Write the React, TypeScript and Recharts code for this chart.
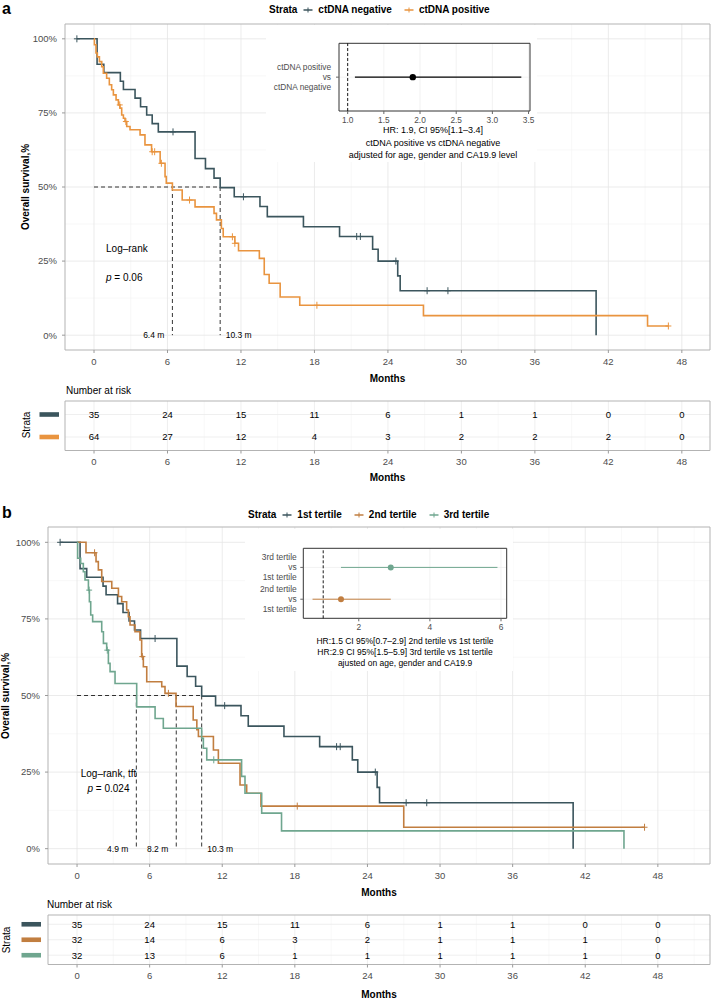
import React from 'react';
import {
  ComposedChart, Line, Scatter, XAxis, YAxis, CartesianGrid, ReferenceLine, ReferenceArea,
} from 'recharts';

// axis ticks
const MONTHS = [0, 6, 12, 18, 24, 30, 36, 42, 48];
const MONTHS_MINOR = [3, 9, 15, 21, 27, 33, 39, 45, 51];
const SURV_TICKS = [0, 25, 50, 75, 100];
const SURV_MINOR = [12.5, 37.5, 62.5, 87.5];

// ctDNA negative (= 1st tertile, same 35 patients)
const NEG_T = [-1.4, 0.25, 0.8, 2.15, 2.4, 3.35, 3.8, 4.3, 4.75, 5.25, 8.25, 9.1, 9.8, 10.3, 11.45, 13.55, 14.15, 17.1, 20.05, 22.75, 23.2, 24.8, 25.0, 41.0];
const NEG_S = [100, 91.4, 88.6, 85.7, 82.9, 80.0, 77.1, 74.3, 71.4, 68.6, 59.6, 56.2, 53.0, 49.8, 46.7, 43.4, 40.0, 36.6, 33.3, 29.0, 25.0, 20.0, 15.0, 0];
const NEG_CENSOR = [-1.4, 6.45, 12.2, 21.45, 21.75, 24.65, 27.2, 28.9];

// ctDNA positive
const POS_T = [0, 0.03, 0.16, 0.27, 0.44, 0.63, 0.76, 1.03, 1.25, 1.44, 1.58, 1.8, 1.99, 2.12, 2.26, 2.4, 2.53, 2.67, 2.94, 3.76, 4.16, 4.7, 5.4, 5.8, 5.9, 6.4, 7.2, 8.25, 9.8, 10.0, 10.4, 10.55, 11.5, 11.8, 13.5, 13.9, 14.3, 15.2, 16.8, 26.9, 45.2, 46.9];
const POS_S = [100, 98.0, 95.2, 93.9, 92.3, 90.6, 88.4, 86.7, 84.5, 82.8, 81.1, 79.4, 77.7, 76.6, 74.3, 73.2, 72.1, 70.4, 69.3, 67.6, 64.2, 61.9, 58.0, 53.5, 51.3, 49.0, 45.6, 43.3, 41.1, 38.9, 36.0, 33.2, 31.0, 28.5, 25.9, 20.5, 17.5, 12.9, 10.1, 6.6, 3.1, 3.1];
const POS_CENSOR = [2.1, 2.6, 4.75, 4.95, 5.5, 7.8, 11.3, 11.5, 18.2, 46.9];

// 2nd tertile
const T2_T = [0, 0.74, 1.57, 1.76, 2.04, 2.87, 3.42, 3.69, 4.1, 4.24, 4.38, 4.79, 5.2, 5.34, 5.48, 5.76, 7.0, 7.27, 8.18, 9.6, 9.9, 10.03, 11.27, 11.68, 13.47, 14.02, 15.2, 27.0, 46.9];
const T2_S = [100, 96.6, 93.7, 91.0, 87.2, 85.0, 82.3, 80.6, 77.9, 75.7, 73.0, 70.8, 68.1, 62.7, 59.4, 54.5, 52.9, 50.7, 46.4, 42.0, 38.8, 36.6, 32.2, 27.9, 20.8, 18.1, 13.9, 7.0, 7.0];
const T2_CENSOR = [1.45, 5.4, 7.55, 18.2, 46.9];

// 3rd tertile
const T3_T = [0, 0.05, 0.3, 0.52, 0.66, 0.94, 1.02, 1.13, 1.29, 2.04, 2.18, 2.45, 2.59, 2.73, 3.14, 4.93, 6.45, 7.13, 10.3, 10.44, 10.72, 13.6, 13.88, 15.26, 16.9, 45.2];
const T3_S = [100, 94.8, 93.1, 90.4, 87.7, 84.4, 80.6, 76.3, 74.1, 70.8, 67.0, 64.8, 60.5, 57.8, 53.9, 46.3, 42.5, 39.3, 36.0, 32.8, 29.0, 23.6, 18.1, 11.6, 5.8, 0];
const T3_CENSOR = [1.0, 2.5, 11.3];

// medians (months)
const MEDIANS_A = [6.4, 10.3];
const MEDIANS_B = [4.9, 8.2, 10.3];

// numbers at risk at MONTHS
const RISK_NEG = [35, 24, 15, 11, 6, 1, 1, 0, 0];
const RISK_POS = [64, 27, 12, 4, 3, 2, 2, 2, 0];
const RISK_T1 = [35, 24, 15, 11, 6, 1, 1, 0, 0];
const RISK_T2 = [32, 14, 6, 3, 2, 1, 1, 1, 0];
const RISK_T3 = [32, 13, 6, 1, 1, 1, 1, 1, 0];

// hazard ratios
const HR_A = { hr: 1.9, lo: 1.1, hi: 3.4 };
const HR_A_TICKS = [1.0, 1.5, 2.0, 2.5, 3.0, 3.5];
const HR_B_T3 = { hr: 2.9, lo: 1.5, hi: 5.9 };
const HR_B_T2 = { hr: 1.5, lo: 0.7, hi: 2.9 };
const HR_B_TICKS = [2, 4, 6];

const LEGEND_A = ['ctDNA negative', 'ctDNA positive'];
const LEGEND_B = ['1st tertile', '2nd tertile', '3rd tertile'];
const ROWS_A = [['ctDNA positive', 'vs', 'ctDNA negative']];
const ROWS_B = [['3rd tertile', 'vs', '1st tertile'], ['2nd tertile', 'vs', '1st tertile']];
const CAPTION_A = ['HR: 1.9, CI 95%[1.1–3.4]', 'ctDNA positive vs ctDNA negative', 'adjusted for age, gender and CA19.9 level'];
const CAPTION_B = ['HR:1.5 CI 95%[0.7–2.9] 2nd tertile vs 1st tertile', 'HR:2.9 CI 95%[1.5–5.9] 3rd tertile vs 1st tertile', 'ajusted on age, gender and CA19.9'];

const FONT = "'Liberation Sans', Arial, Helvetica, sans-serif";
const GREY_TXT = '#4d4d4d';
const FRAME = '#b3b3b3';
const C_DARK = '#3b555d';
const C_ORANGE = '#e9943f';
const C_BROWN = '#c17e40';
const C_GREEN = '#6fa68f';

const pts = (t: number[], s: number[]) => t.map((x, i) => ({ t: x, s: s[i] }));
const survAt = (t: number[], s: number[], x: number) => {
  let v = s[0];
  for (let i = 0; i < t.length; i++) if (t[i] <= x) v = s[i];
  return v;
};

const plusShape = (color: string) => (p: any) => {
  if (p.cx == null || p.cy == null) return <g />;
  return (
    <path
      d={`M${p.cx - 3},${p.cy}H${p.cx + 3}M${p.cx},${p.cy - 3.5}V${p.cy + 3.5}`}
      stroke={color} strokeWidth={1} fill="none"
    />
  );
};

const medianLabel = (p: any) => (
  <text
    x={p.cx + (p.payload.right ? 5.5 : -8)} y={p.cy} dy="0.35em"
    textAnchor={p.payload.right ? 'start' : 'end'} fontSize={8.5} fill="#000"
  >
    {p.payload.text}
  </text>
);

const noteShape = (p: any) => {
  const { text, anchor } = p.payload;
  const isP = text.startsWith('p ');
  return (
    <text x={p.cx} y={p.cy} dy="0.35em" textAnchor={anchor} fontSize={10} fill="#000">
      {isP ? (<><tspan fontStyle="italic">p</tspan>{text.slice(1)}</>) : text}
    </text>
  );
};

const countShape = (p: any) => (
  <text x={p.cx} y={p.cy} dy="0.35em" textAnchor="middle" fontSize={9.5} fill="#000">
    {p.payload.n}
  </text>
);

type Curve = { t: number[]; s: number[]; censor: number[]; color: string };
type Note = { t: number; s: number; text: string; anchor: string };

function KMPlot({ top, axisW, plotH, xDomain, curves, medians, notes }: {
  top: number; axisW: number; plotH: number; xDomain: [number, number];
  curves: Curve[]; medians: number[]; notes: Note[];
}) {
  const minor = MONTHS_MINOR.filter((m) => m > xDomain[0] && m < xDomain[1]);
  const last = medians[medians.length - 1];
  return (
    <div style={{ position: 'absolute', left: 0, top }}>
      <ComposedChart width={712} height={4 + plotH + 40} margin={{ top: 4, right: 2, bottom: 0, left: 0 }}>
        <CartesianGrid verticalValues={minor} horizontalValues={SURV_MINOR} stroke="#f3f3f3" strokeWidth={0.6} />
        <CartesianGrid verticalValues={MONTHS} horizontalValues={SURV_TICKS} stroke="#e6e6e6" strokeWidth={0.8} />
        <XAxis
          type="number" dataKey="t" domain={xDomain} ticks={MONTHS} interval={0} allowDataOverflow
          height={40} axisLine={false} tickSize={3} tickMargin={5}
          tickLine={{ stroke: '#9a9a9a' }} tick={{ fontSize: 9.5, fill: GREY_TXT }}
        />
        <YAxis
          type="number" domain={[-5, 105]} ticks={SURV_TICKS} interval={0} allowDataOverflow
          width={axisW} axisLine={false} tickSize={3} tickMargin={5}
          tickFormatter={(v: number) => `${v}%`}
          tickLine={{ stroke: '#9a9a9a' }} tick={{ fontSize: 9.5, fill: GREY_TXT }}
        />
        <ReferenceArea x1={xDomain[0]} x2={xDomain[1]} y1={-5} y2={105} fill="none" fillOpacity={0} stroke={FRAME} strokeWidth={1} ifOverflow="visible" />
        <ReferenceLine segment={[{ x: 0, y: 50 }, { x: last, y: 50 }]} stroke="#000" strokeDasharray="4 3" strokeWidth={0.8} />
        {medians.map((m) => (
          <ReferenceLine key={m} segment={[{ x: m, y: 50 }, { x: m, y: 0 }]} stroke="#000" strokeDasharray="4 3" strokeWidth={0.8} />
        ))}
        {curves.map((c, i) => (
          <Line
            key={i} data={pts(c.t, c.s)} dataKey="s" type="stepAfter" stroke={c.color}
            strokeWidth={1.6} dot={false} activeDot={false} isAnimationActive={false}
          />
        ))}
        {curves.map((c, i) => (
          <Scatter
            key={`c${i}`} data={c.censor.map((x) => ({ t: x, s: survAt(c.t, c.s, x) }))}
            dataKey="s" shape={plusShape(c.color)} isAnimationActive={false}
          />
        ))}
        <Scatter
          data={medians.map((m) => ({ t: m, s: 0, text: `${m} m`, right: m === last }))}
          dataKey="s" shape={medianLabel} isAnimationActive={false}
        />
        <Scatter data={notes} dataKey="s" shape={noteShape} isAnimationActive={false} />
      </ComposedChart>
    </div>
  );
}

type HrRow = { hr: number; lo: number; hi: number; color: string; lines: string[] };

function ForestInset({ left, top, width, height, plotTop, axisW, right, plotH, domain, ticks, fmt, rows, labelMargin, caption, capX, capY, capGap, capSize, labelSize, dotR, ciW }: {
  left: number; top: number; width: number; height: number; plotTop: number; axisW: number; right: number;
  plotH: number; domain: [number, number]; ticks: number[]; fmt: (v: number) => string; rows: HrRow[];
  labelMargin: number; caption: string[]; capX: number; capY: number; capGap: number; capSize: number;
  labelSize: number; dotR: number; ciW: number;
}) {
  const idx = rows.map((_, i) => i + 1);
  const rowDomain: [number, number] = [0.4, rows.length + 0.6];
  const RowTick = (p: any) => {
    const lines = rows[p.payload.value - 1].lines;
    return (
      <text x={p.x} y={p.y} textAnchor="end" fontSize={labelSize} fill={GREY_TXT}>
        {lines.map((l, i) => (
          <tspan key={i} x={p.x} y={p.y + (i - 1) * 10} dy="0.35em">{l}</tspan>
        ))}
      </text>
    );
  };
  return (
    <div style={{ position: 'absolute', left, top, width, height, background: '#fff' }}>
      <ComposedChart width={width} height={height} margin={{ top: plotTop, right, bottom: 0, left: 0 }}>
        <CartesianGrid verticalValues={ticks} horizontalValues={idx} stroke="#ededed" strokeWidth={0.7} />
        <XAxis
          type="number" dataKey="hr" domain={domain} ticks={ticks} interval={0} allowDataOverflow
          height={height - plotTop - plotH} axisLine={false} tickSize={3} tickMargin={3}
          tickFormatter={fmt} tickLine={{ stroke: '#666' }} tick={{ fontSize: labelSize, fill: GREY_TXT }}
        />
        <YAxis
          type="number" domain={rowDomain} reversed ticks={idx} interval={0} allowDataOverflow
          width={axisW} axisLine={false} tickSize={3} tickMargin={labelMargin}
          tickLine={{ stroke: '#666' }} tick={RowTick}
        />
        <ReferenceLine x={1} stroke="#000" strokeDasharray="3 2" strokeWidth={0.9} />
        {rows.map((r, i) => (
          <Line
            key={i} data={[{ hr: r.lo, row: i + 1 }, { hr: r.hi, row: i + 1 }]} dataKey="row"
            stroke={r.color} strokeWidth={ciW} dot={false} activeDot={false} isAnimationActive={false}
          />
        ))}
        {rows.map((r, i) => (
          <Scatter
            key={`p${i}`} data={[{ hr: r.hr, row: i + 1 }]} dataKey="row" isAnimationActive={false}
            shape={(p: any) => <circle cx={p.cx} cy={p.cy} r={dotR} fill={r.color} />}
          />
        ))}
        <ReferenceArea x1={domain[0]} x2={domain[1]} y1={rowDomain[0]} y2={rowDomain[1]} fill="none" fillOpacity={0} stroke="#333" strokeWidth={1} ifOverflow="visible" />
      </ComposedChart>
      {caption.map((c, i) => (
        <div key={i} style={{
          position: 'absolute', left: capX, top: capY + i * capGap, transform: 'translate(-50%, -50%)',
          fontSize: capSize, lineHeight: 1, whiteSpace: 'nowrap', color: '#000',
        }}>{c}</div>
      ))}
    </div>
  );
}

function RiskTable({ top, axisW, xDomain, counts, colors, barGap }: {
  top: number; axisW: number; xDomain: [number, number]; counts: number[][]; colors: string[]; barGap: number;
}) {
  const idx = counts.map((_, i) => i + 1);
  const rowDomain: [number, number] = [0.4, counts.length + 0.6];
  const minor = MONTHS_MINOR.filter((m) => m > xDomain[0] && m < xDomain[1]);
  const plotH = 49.5;
  const barTick = (p: any) => (
    <rect x={p.x - 19.5} y={p.y - 2.3} width={19.5} height={4.6} fill={colors[p.payload.value - 1]} />
  );
  return (
    <div style={{ position: 'absolute', left: 0, top }}>
      <ComposedChart width={712} height={4 + plotH + 24} margin={{ top: 4, right: 2, bottom: 0, left: 0 }}>
        <CartesianGrid verticalValues={minor} horizontal={false} stroke="#f3f3f3" strokeWidth={0.6} />
        <CartesianGrid verticalValues={MONTHS} horizontalValues={idx} stroke="#ebebeb" strokeWidth={0.8} />
        <XAxis
          type="number" dataKey="t" domain={xDomain} ticks={MONTHS} interval={0} allowDataOverflow
          height={24} axisLine={false} tickSize={3} tickMargin={5}
          tickLine={{ stroke: '#9a9a9a' }} tick={{ fontSize: 9.5, fill: GREY_TXT }}
        />
        <YAxis
          type="number" domain={rowDomain} reversed ticks={idx} interval={0} allowDataOverflow
          width={axisW} axisLine={false} tickLine={false} tickSize={0} tickMargin={barGap} tick={barTick}
        />
        <ReferenceArea x1={xDomain[0]} x2={xDomain[1]} y1={rowDomain[0]} y2={rowDomain[1]} fill="none" fillOpacity={0} stroke={FRAME} strokeWidth={1} ifOverflow="visible" />
        {counts.map((row, i) => (
          <Scatter
            key={i} data={MONTHS.map((t, j) => ({ t, row: i + 1, n: row[j] }))}
            dataKey="row" shape={countShape} isAnimationActive={false}
          />
        ))}
      </ComposedChart>
    </div>
  );
}

function Txt({ x, y, children, size = 10, bold = false, anchor = 'middle', rotate = 0 }: {
  x: number; y: number; children: React.ReactNode; size?: number; bold?: boolean; anchor?: string; rotate?: number;
}) {
  const tx = anchor === 'middle' ? '-50%' : anchor === 'end' ? '-100%' : '0';
  return (
    <div style={{
      position: 'absolute', left: x, top: y,
      transform: `translate(${tx}, -50%)${rotate ? ` rotate(${rotate}deg)` : ''}`,
      fontSize: size, fontWeight: bold ? 700 : 400, lineHeight: 1, whiteSpace: 'nowrap', color: '#000',
    }}>{children}</div>
  );
}

function StrataLegend({ x, y, labels, colors }: { x: number; y: number; labels: string[]; colors: string[] }) {
  return (
    <div style={{
      position: 'absolute', left: x, top: y, transform: 'translateY(-50%)', display: 'flex',
      alignItems: 'center', fontWeight: 700, fontSize: 10, lineHeight: 1, whiteSpace: 'nowrap',
    }}>
      <span>Strata</span>
      {labels.map((l, i) => (
        <React.Fragment key={l}>
          <svg width={16} height={10} style={{ margin: '0 2px 0 3px' }}>
            <line x1={3.5} y1={5} x2={12.5} y2={5} stroke={colors[i]} strokeWidth={1.5} />
            <line x1={8} y1={2.5} x2={8} y2={7.5} stroke={colors[i]} strokeWidth={1} />
          </svg>
          <span style={{ marginRight: i < labels.length - 1 ? 6 : 0 }}>{l}</span>
        </React.Fragment>
      ))}
    </div>
  );
}

export default function App() {
  const xA: [number, number] = [-2.37, 50.3];
  const xB: [number, number] = [-2.4, 52.31];
  return (
    <div style={{
      position: 'absolute', left: 0, top: 0, width: 712, height: 999, background: '#fff',
      fontFamily: FONT, overflow: 'hidden',
    }}>
      {/* panel a */}
      <Txt x={2} y={9} size={16} bold anchor="start">a</Txt>
      <StrataLegend x={269} y={10} labels={LEGEND_A} colors={[C_DARK, C_ORANGE]} />
      <KMPlot
        top={20} axisW={65} plotH={326} xDomain={xA} medians={MEDIANS_A}
        curves={[
          { t: NEG_T, s: NEG_S, censor: NEG_CENSOR, color: C_DARK },
          { t: POS_T, s: POS_S, censor: POS_CENSOR, color: C_ORANGE },
        ]}
        notes={[
          { t: 0.98, s: 29.3, text: 'Log–rank', anchor: 'start' },
          { t: 0.98, s: 19.4, text: 'p = 0.06', anchor: 'start' },
        ]}
      />
      <ForestInset
        left={266} top={25} width={271} height={137} plotTop={18.3} axisW={73} right={7} plotH={67.7}
        domain={[0.88, 3.52]} ticks={HR_A_TICKS} fmt={(v) => v.toFixed(1)}
        rows={[{ ...HR_A, color: '#000', lines: ROWS_A[0] }]} labelMargin={5}
        caption={CAPTION_A} capX={167} capY={105} capGap={12.5} capSize={9} labelSize={8.3} dotR={3.2} ciW={1.2}
      />
      <Txt x={25.5} y={187} bold rotate={-90}>Overall survival,%</Txt>
      <Txt x={387.5} y={379} bold>Months</Txt>
      <Txt x={66} y={391} anchor="start">Number at risk</Txt>
      <RiskTable top={397} axisW={65} xDomain={xA} counts={[RISK_NEG, RISK_POS]} colors={[C_DARK, C_ORANGE]} barGap={6} />
      <Txt x={27} y={425} rotate={-90}>Strata</Txt>
      <Txt x={387.5} y={478} bold>Months</Txt>

      {/* panel b */}
      <Txt x={2} y={513} size={16} bold anchor="start">b</Txt>
      <StrataLegend x={248} y={515} labels={LEGEND_B} colors={[C_DARK, C_BROWN, C_GREEN]} />
      <KMPlot
        top={523} axisW={48} plotH={337} xDomain={xB} medians={MEDIANS_B}
        curves={[
          { t: NEG_T, s: NEG_S, censor: NEG_CENSOR, color: C_DARK },
          { t: T2_T, s: T2_S, censor: T2_CENSOR, color: C_BROWN },
          { t: T3_T, s: T3_S, censor: T3_CENSOR, color: C_GREEN },
        ]}
        notes={[
          { t: 2.6, s: 24.4, text: 'Log–rank, tft', anchor: 'middle' },
          { t: 2.6, s: 19.7, text: 'p = 0.024', anchor: 'middle' },
        ]}
      />
      <ForestInset
        left={245} top={529} width={268} height={142} plotTop={19.3} axisW={58.3} right={6.3} plotH={70}
        domain={[0.44, 6.16]} ticks={HR_B_TICKS} fmt={(v) => String(v)}
        rows={[
          { ...HR_B_T3, color: C_GREEN, lines: ROWS_B[0] },
          { ...HR_B_T2, color: C_BROWN, lines: ROWS_B[1] },
        ]}
        labelMargin={3.6}
        caption={CAPTION_B} capX={160} capY={112} capGap={11} capSize={8.5} labelSize={8.4} dotR={3} ciW={1}
      />
      <Txt x={5.5} y={695.5} bold rotate={-90}>Overall survival,%</Txt>
      <Txt x={379} y={893} bold>Months</Txt>
      <Txt x={47} y={905} anchor="start">Number at risk</Txt>
      <RiskTable top={911} axisW={48} xDomain={xB} counts={[RISK_T1, RISK_T2, RISK_T3]} colors={[C_DARK, C_BROWN, C_GREEN]} barGap={7} />
      <Txt x={7} y={940} rotate={-90}>Strata</Txt>
      <Txt x={379} y={995} bold>Months</Txt>
    </div>
  );
}
